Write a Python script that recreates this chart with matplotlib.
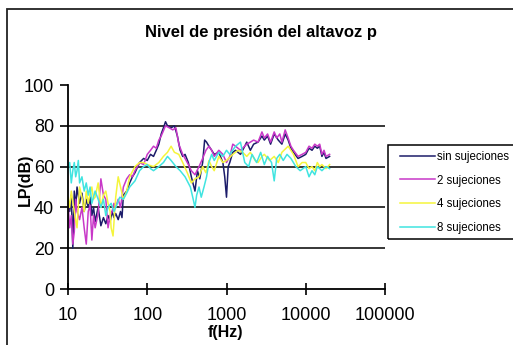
import matplotlib
matplotlib.use("Agg")
import matplotlib.pyplot as plt
from matplotlib.patches import Rectangle

plt.rcParams['font.family'] = ['Liberation Sans', 'DejaVu Sans']

title = "Nivel de presión del altavoz p"
labels = ["sin sujeciones", "2 sujeciones", "4 sujeciones", "8 sujeciones"]
colors = ["#1c1c6a", "#c838c8", "#f5f53c", "#40e4e0"]

xticks = [10, 100, 1000, 10000, 100000]
xtick_labels = ["10", "100", "1000", "10000", "100000"]
yticks = [0, 20, 40, 60, 80, 100]

# sin sujeciones
f0 = [10, 10.5, 11, 11.5, 12, 12.5, 13, 14, 15, 16,
      17, 18, 19, 20, 21, 22, 24, 26, 28, 30,
      32, 34, 36, 38, 40, 43, 46, 48, 50, 55,
      60, 65, 70, 80, 90, 100, 110, 120, 130, 140,
      150, 160, 170, 180, 200, 220, 240, 260, 280, 300,
      330, 360, 400, 430, 460, 500, 530, 560, 600, 650,
      700, 800, 900, 950, 1000, 1050, 1100, 1200, 1300, 1500,
      1700, 1800, 2000, 2200, 2500, 2800, 3000, 3300, 3600, 4000,
      4500, 5000, 5500, 6000, 6500, 7000, 8000, 9000, 10000, 11000,
      12000, 13000, 14000, 15000, 16000, 17000, 18000, 20000]
L0 = [42, 38, 46, 20, 48, 40, 50, 42, 47, 38,
      44, 40, 45, 36, 40, 33, 40, 31, 35, 32,
      36, 33, 38, 35, 37, 34, 38, 35, 46, 48,
      52, 55, 57, 62, 64, 63, 66, 65, 68, 71,
      76, 79, 82, 80, 79, 80, 75, 68, 65, 66,
      62, 55, 48, 58, 54, 62, 73, 72, 70, 68,
      66, 67, 62, 55, 45, 60, 62, 67, 68, 66,
      70, 72, 68, 71, 72, 75, 73, 75, 71, 76,
      73, 71, 76, 73, 69, 67, 64, 65, 66, 69,
      68, 70, 69, 70, 65, 67, 64, 65]

# 2 sujeciones
f1 = [10, 10.5, 11, 11.5, 12, 12.5, 13, 14, 15, 16,
      17, 18, 19, 20, 21, 22, 24, 26, 28, 30,
      32, 34, 36, 38, 40, 43, 46, 50, 55, 60,
      65, 70, 80, 90, 100, 110, 120, 130, 140, 150,
      170, 190, 210, 230, 250, 280, 300, 330, 360, 400,
      450, 500, 550, 600, 650, 700, 800, 900, 1000, 1100,
      1200, 1300, 1500, 1800, 2000, 2200, 2500, 2800, 3000, 3300,
      3600, 4000, 4300, 4700, 5000, 5500, 6000, 6500, 7000, 8000,
      9000, 10000, 11000, 12000, 13000, 14000, 15000, 16000, 17000, 18000,
      20000]
L1 = [42, 30, 36, 22, 28, 44, 38, 34, 40, 30,
      22, 38, 41, 24, 36, 30, 37, 54, 46, 44,
      30, 36, 38, 42, 40, 44, 40, 50, 54, 56,
      55, 58, 62, 61, 66, 68, 70, 69, 73, 75,
      80, 79, 78, 79, 71, 66, 64, 61, 58, 56,
      60, 64, 68, 70, 68, 65, 68, 66, 62, 65,
      71, 70, 68, 71, 72, 73, 72, 77, 74, 76,
      72, 77, 74, 76, 72, 78, 74, 70, 68, 65,
      66, 67, 70, 69, 71, 70, 71, 66, 68, 65,
      66]

# 4 sujeciones
f2 = [10, 10.5, 11, 12, 13, 14, 15, 16, 17, 18,
      19, 20, 21, 22, 24, 26, 28, 30, 32, 34,
      35, 37, 40, 43, 46, 50, 55, 60, 70, 80,
      90, 100, 120, 140, 160, 180, 200, 220, 250, 280,
      320, 360, 400, 450, 500, 550, 600, 650, 700, 800,
      900, 1000, 1200, 1400, 1600, 1800, 2000, 2300, 2500, 2800,
      3000, 3500, 4000, 4500, 5000, 6000, 7000, 8000, 9000, 10000,
      11000, 12000, 13000, 14000, 15000, 16000, 18000, 20000]
L2 = [45, 40, 48, 38, 30, 50, 45, 38, 48, 42,
      47, 50, 44, 45, 52, 40, 46, 48, 42, 38,
      30, 26, 45, 55, 50, 44, 48, 55, 60, 62,
      62, 61, 60, 62, 65, 67, 70, 67, 66, 62,
      57, 52, 54, 55, 60, 57, 63, 60, 58, 65,
      62, 63, 66, 68, 67, 65, 67, 63, 62, 65,
      66, 63, 65, 62, 67, 70, 66, 60, 62, 62,
      59, 60, 58, 62, 60, 61, 59, 61]

# 8 sujeciones
f3 = [10, 10.5, 11, 11.5, 12, 12.5, 13, 13.5, 14, 15,
      16, 17, 18, 19, 20, 22, 24, 26, 28, 30,
      32, 35, 38, 40, 45, 50, 55, 60, 70, 80,
      90, 100, 110, 120, 140, 160, 180, 200, 230, 260,
      300, 350, 380, 400, 420, 450, 480, 520, 560, 600,
      650, 700, 800, 900, 1000, 1100, 1300, 1500, 1700, 1900,
      2100, 2400, 2700, 3000, 3300, 3700, 4000, 4300, 4700, 5200,
      5800, 6500, 7500, 8500, 10000, 11000, 12000, 13000, 14000, 16000,
      18000, 20000]
L3 = [60, 62, 52, 58, 62, 55, 58, 63, 52, 55,
      48, 52, 46, 50, 42, 48, 44, 40, 44, 36,
      40, 42, 38, 40, 45, 44, 47, 50, 53, 58,
      60, 61, 59, 58, 60, 62, 65, 63, 60, 58,
      55, 50, 44, 40, 46, 50, 45, 50, 55, 62,
      66, 63, 67, 65, 68, 66, 70, 72, 62, 60,
      66, 62, 67, 61, 65, 62, 53, 64, 66, 63,
      66, 64, 60, 58, 60, 55, 58, 56, 60, 58,
      60, 59]

series = [(f0, L0), (f1, L1), (f2, L2), (f3, L3)]

fig = plt.figure(figsize=(5.13, 3.45), dpi=100)
# outer chart border, running off the right and bottom edges
fig.patches.append(Rectangle((7 / 513, -0.1), 1.2, 1.1 - 9 / 345,
                             transform=fig.transFigure, fill=False,
                             edgecolor="#222222", linewidth=1.3))
ax = fig.add_axes([68 / 513, 1 - 289 / 345, 317 / 513, 204 / 345])

for (f, L), lab, c in zip(series, labels, colors):
    ax.plot(f, L, color=c, linewidth=1.1, label=lab)

ax.set_xscale("log")
ax.set_xlim(10, 100000)
ax.set_ylim(0, 100)
ax.set_xticks(xticks)
ax.set_xticklabels(xtick_labels)
ax.xaxis.set_minor_locator(matplotlib.ticker.NullLocator())
ax.set_yticks(yticks)
for y in yticks[1:-1]:
    ax.axhline(y, color="black", linewidth=1.1, zorder=0)

for s in ["top", "right"]:
    ax.spines[s].set_visible(False)
for s in ["left", "bottom"]:
    ax.spines[s].set_linewidth(1.3)
ax.tick_params(axis="y", direction="out", length=6, width=1.2, pad=4, labelsize=13)
ax.tick_params(axis="x", direction="inout", length=8, width=1.2, pad=9, labelsize=13)

ax.set_xlabel("f(Hz)", fontsize=11.5, fontweight="bold", va="center")
ax.xaxis.set_label_coords((226 - 68) / 317, -(333 - 289) / 204)
ax.set_ylabel("LP(dB)", fontsize=11.5, fontweight="bold", va="center")
ax.yaxis.set_label_coords(-(68 - 25) / 317, (289 - 180) / 204)
fig.text(261 / 513, 1 - 32 / 345, title, ha="center", va="center",
         fontsize=12, fontweight="bold")

# legend frame drawn separately so the horizontal padding can differ
fig.patches.append(Rectangle((388 / 513, 1 - 239 / 345), 0.4, 94 / 345,
                             transform=fig.transFigure, fill=False,
                             edgecolor="black", linewidth=1.1))
leg = fig.legend(loc="upper left", bbox_to_anchor=(400 / 513, 1 - 151 / 345),
                 fontsize=8.3, frameon=False, handlelength=3.0,
                 labelspacing=1.0, borderpad=0, handletextpad=0.2,
                 borderaxespad=0)

fig.savefig("out.png", dpi=100)
